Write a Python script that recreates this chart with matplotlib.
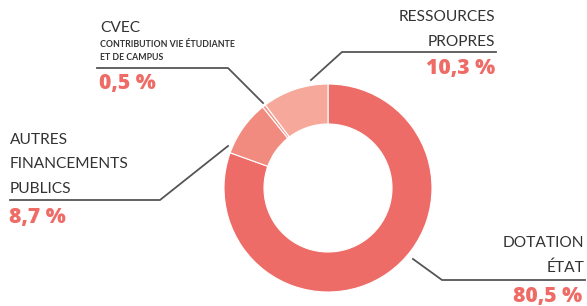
import matplotlib.pyplot as plt

# data
labels = ["DOTATION\nÉTAT", "AUTRES\nFINANCEMENTS\nPUBLICS", "CVEC", "RESSOURCES\nPROPRES"]
shares = [80.5, 8.7, 0.5, 10.3]
colors = ["#ee6c67", "#f28b7f", "#f49a8c", "#f6a99b"]

RED = "#ee6b66"
GREY = "#333333"
LINE = "#555555"

plt.rcParams['font.family'] = ['Lato', 'DejaVu Sans']
PCT_FONT = ['Open Sans', 'DejaVu Sans']

fig = plt.figure(figsize=(5.87, 3.06), dpi=100)
ax = fig.add_axes([0, 0, 1, 1])

# donut, starting at 12 o'clock going clockwise on screen (y axis is inverted)
ax.pie(shares, colors=colors, startangle=-90, counterclock=True,
       center=(328, 188), radius=104, frame=True,
       wedgeprops=dict(width=40, edgecolor='white', linewidth=0.8))
ax.set_xlim(0, 587)
ax.set_ylim(306, 0)
ax.set_aspect('equal')
ax.axis('off')

def pct(v):
    return f"{v:.1f}".replace(".", ",") + " %"

LS = 11.2   # label size
PS = 15.2   # percent size

# leader lines
lw = 1.3
ax.plot([413, 442, 585], [259, 280, 280], color=LINE, lw=lw)
ax.plot([228, 160, 10], [146, 200, 200], color=LINE, lw=lw)
ax.plot([263, 228, 97], [103, 68, 68], color=LINE, lw=lw)
ax.plot([311, 342, 496], [80, 52, 52], color=LINE, lw=lw)

# dotation etat
ax.text(584, 247, "DOTATION", ha='right', va='baseline', fontsize=LS, color=GREY)
ax.text(584, 272, "ÉTAT", ha='right', va='baseline', fontsize=LS, color=GREY)
ax.text(582, 302, pct(shares[0]), ha='right', va='baseline', fontsize=PS,
        fontweight='heavy', family=PCT_FONT, color=RED)

# autres financements publics
for i, s in enumerate(labels[1].split("\n")):
    ax.text(10, 144 + 24.5 * i, s, ha='left', va='baseline', fontsize=LS, color=GREY)
ax.text(9, 223, pct(shares[1]), ha='left', va='baseline', fontsize=PS,
        fontweight='heavy', family=PCT_FONT, color=RED)

# cvec
ax.text(100, 32, labels[2], ha='left', va='baseline', fontsize=LS, color=GREY)
ax.text(100, 47, "CONTRIBUTION VIE ÉTUDIANTE", ha='left', va='baseline',
        fontsize=6.3, fontweight='bold', color=GREY)
ax.text(100, 60, "ET DE CAMPUS", ha='left', va='baseline',
        fontsize=6.3, fontweight='bold', color=GREY)
ax.text(99, 89, pct(shares[2]), ha='left', va='baseline', fontsize=PS,
        fontweight='heavy', family=PCT_FONT, color=RED)

# ressources propres
ax.text(495, 21, "RESSOURCES", ha='right', va='baseline', fontsize=LS, color=GREY)
ax.text(495, 46, "PROPRES", ha='right', va='baseline', fontsize=LS, color=GREY)
ax.text(495, 74, pct(shares[3]), ha='right', va='baseline', fontsize=PS,
        fontweight='heavy', family=PCT_FONT, color=RED)

fig.savefig("out.png", dpi=100)
